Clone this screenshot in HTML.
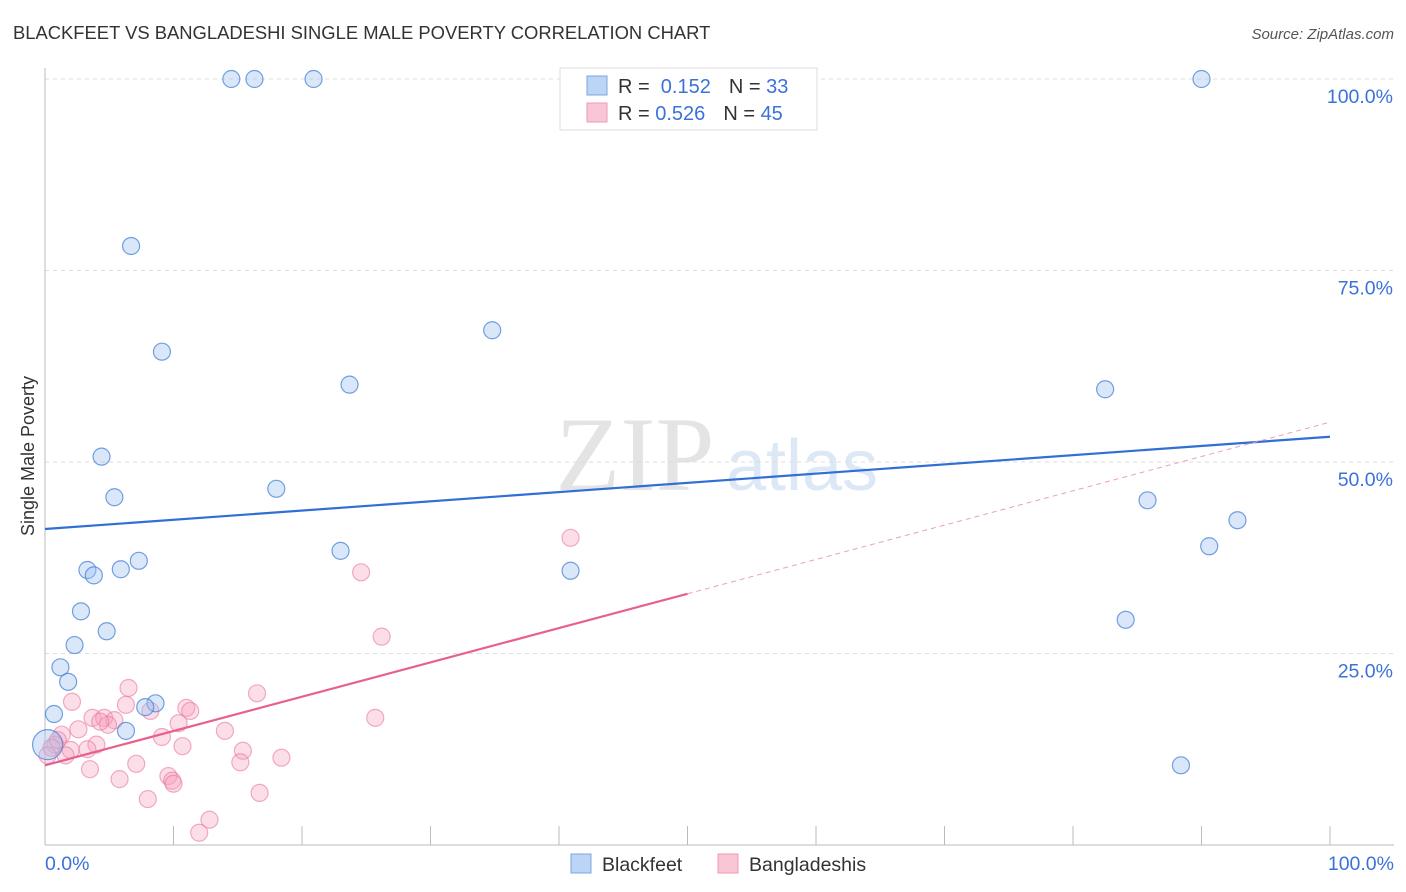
<!DOCTYPE html>
<html><head><meta charset="utf-8"><style>
body{margin:0;background:#fff;font-family:"Liberation Sans",sans-serif;}
svg{display:block}
</style></head><body>
<svg id="c" width="1406" height="892">
<text x="13" y="39" font-size="18.4" fill="#333">BLACKFEET VS BANGLADESHI SINGLE MALE POVERTY CORRELATION CHART</text>
<text x="1394" y="39" font-size="15" fill="#555" font-style="italic" text-anchor="end">Source: ZipAtlas.com</text>
<text x="635" y="490" font-size="106" fill="#e4e4e4" font-family="Liberation Serif,serif" text-anchor="middle">ZIP</text>
<text x="802" y="490" font-size="72" fill="#dce8f6" text-anchor="middle">atlas</text>
<text transform="translate(34,456) rotate(-90)" font-size="18" fill="#333" text-anchor="middle">Single Male Poverty</text>
<g id="grid"></g><g id="axes"></g><g id="pts"></g><g id="lines"></g>
<g>
<rect x="560" y="68" width="257" height="62" fill="#fff" stroke="#ddd"/>
<rect x="587" y="76" width="20" height="19" fill="#bcd4f5" stroke="#7aa6e0"/>
<rect x="587" y="103" width="20" height="19" fill="#f9c6d6" stroke="#ee99b4"/>
<text x="618" y="93" font-size="20" fill="#333">R = <tspan fill="#3b72d9">&#160;0.152</tspan><tspan dx="18">N = </tspan><tspan fill="#3b72d9">33</tspan></text>
<text x="618" y="120" font-size="20" fill="#333">R = <tspan fill="#3b72d9">0.526</tspan><tspan dx="18">N = </tspan><tspan fill="#3b72d9">45</tspan></text>
</g>
<g>
<rect x="571" y="854" width="20" height="19" fill="#bcd4f5" stroke="#7aa6e0"/>
<text x="602" y="871" font-size="19.5" fill="#333">Blackfeet</text>
<rect x="718" y="854" width="20" height="19" fill="#f9c6d6" stroke="#ee99b4"/>
<text x="749" y="871" font-size="19.5" fill="#333">Bangladeshis</text>
</g>
</svg>
<script>
const blueX=[14.5,16.3,20.9,90.0,6.7,9.1,34.8,23.7,82.5,4.4,5.4,18.0,85.8,92.8,23.0,90.6,7.3,3.3,5.9,3.8,40.9,2.8,4.8,84.1,2.3,1.2,1.8,0.7,8.6,7.8,6.3,88.4,0.2];
const blueY=[100,100,100,100,78.2,64.4,67.2,60.1,59.5,50.7,45.4,46.5,45.0,42.4,38.4,39.0,37.1,35.9,36.0,35.2,35.8,30.5,27.9,29.4,26.1,23.2,21.3,17.1,18.5,18.0,14.9,10.4,13.1];
const pinkX=[40.9,24.6,26.2,6.5,16.5,2.1,11.0,11.3,8.2,6.3,3.7,4.6,5.4,4.9,25.7,10.4,2.6,14.0,1.3,4.0,10.7,9.1,0.8,15.4,3.3,2.0,1.6,18.4,15.2,7.1,3.5,9.6,9.9,10.0,5.8,16.7,8.0,12.8,12.0,0.5,1.0,4.3,0.2];
const pinkY=[40.1,35.6,27.2,20.5,19.8,18.7,17.9,17.5,17.5,18.3,16.6,16.6,16.3,15.7,16.6,15.9,15.1,14.9,14.4,13.1,12.9,14.1,13.1,12.3,12.5,12.4,11.7,11.4,10.8,10.6,9.9,9.0,8.4,8.0,8.6,6.8,6.0,3.3,1.6,12.7,13.7,16.1,11.7];
const blueLine=[41.25,53.3];
const pinkLine=[10.4,55.2];
const yTicks=[25,50,75,100];
const ns="http://www.w3.org/2000/svg";
const X=v=>45+v*12.85, Y=v=>845-v*7.66;
function mk(t,a,p){const e=document.createElementNS(ns,t);for(const k in a)e.setAttribute(k,a[k]);p.appendChild(e);return e;}
const grid=document.getElementById('grid'),axes=document.getElementById('axes'),pts=document.getElementById('pts'),lines=document.getElementById('lines');
yTicks.forEach(t=>{
 const l=mk('line',{x1:45,x2:1394,y1:Y(t),y2:Y(t),stroke:'#ddd','stroke-dasharray':'4,4'},grid);
 
 
 const tx=mk('text',{x:1393,y:Y(t)+24,'font-size':19.5,fill:'#3b72d9','text-anchor':'end'},grid);
 tx.textContent=t.toFixed(1)+'%';
 
 
});
mk('line',{x1:45,x2:45,y1:68,y2:845,stroke:'#bbb'},axes);
mk('line',{x1:45,x2:1394,y1:845,y2:845,stroke:'#bbb'},axes);
for(let i=1;i<=10;i++){const t=mk('line',{x1:X(i*10),x2:X(i*10),y1:826,y2:845,stroke:'#bbb'},axes);
 
 }
let t0=mk('text',{x:45,y:870,'font-size':19.5,fill:'#3b72d9'},axes);t0.textContent='0.0%';


let t1=mk('text',{x:1394,y:870,'font-size':19.5,fill:'#3b72d9','text-anchor':'end'},axes);t1.textContent='100.0%';


pinkX.forEach((x,i)=>{const c=mk('circle',{cx:X(x),cy:Y(pinkY[i]),r:8.5,fill:'rgba(245,160,190,0.35)',stroke:'rgba(232,120,160,0.6)','stroke-width':1.2},pts);
 
 });
blueX.forEach((x,i)=>{const big=(i===blueX.length-1);const c=mk('circle',{cx:X(x),cy:Y(blueY[i]),r:big?15:8.5,fill:'rgba(160,195,240,0.4)',stroke:'rgba(70,130,215,0.75)','stroke-width':1.2},pts);
 
 });
let bl=mk('line',{x1:X(0),y1:Y(blueLine[0]),x2:X(100),y2:Y(blueLine[1]),stroke:'#2f6fd6','stroke-width':2.2},lines);


const pm=pinkLine[0]+(pinkLine[1]-pinkLine[0])*0.5;
let pl=mk('line',{x1:X(0),y1:Y(pinkLine[0]),x2:X(50),y2:Y(pm),stroke:'#e8608e','stroke-width':2.2},lines);


let pd=mk('line',{x1:X(50),y1:Y(pm),x2:X(100),y2:Y(pinkLine[1]),stroke:'#eaa0b8','stroke-width':1,'stroke-dasharray':'5,4'},lines);


</script>
</body></html>
